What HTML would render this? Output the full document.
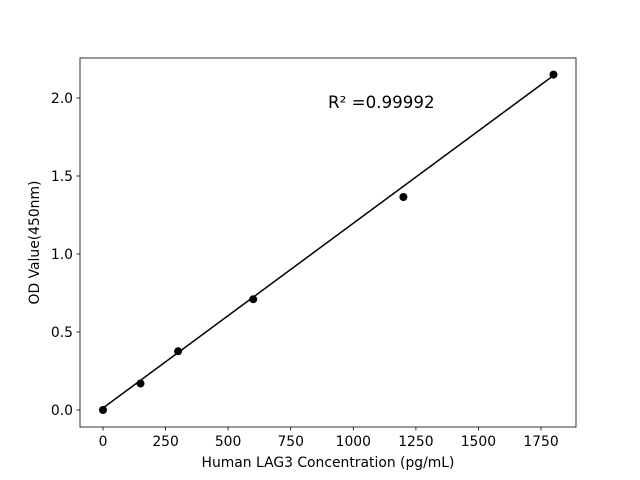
<!DOCTYPE html>
<html><head><meta charset="utf-8"><style>body{margin:0;background:#fff}svg{display:block}text{font-family:"DejaVu Sans","Liberation Sans",sans-serif;fill:#000}</style></head>
<body>
<svg width="640" height="480" xmlns="http://www.w3.org/2000/svg">
<rect x="80" y="58" width="496" height="369" fill="none" stroke="#000" stroke-width="0.8"/>
<g stroke="#000" stroke-width="0.8">
<line x1="103" y1="427" x2="103" y2="430.5"/>
<line x1="165.6" y1="427" x2="165.6" y2="430.5"/>
<line x1="228.1" y1="427" x2="228.1" y2="430.5"/>
<line x1="290.7" y1="427" x2="290.7" y2="430.5"/>
<line x1="353.3" y1="427" x2="353.3" y2="430.5"/>
<line x1="415.9" y1="427" x2="415.9" y2="430.5"/>
<line x1="478.4" y1="427" x2="478.4" y2="430.5"/>
<line x1="541" y1="427" x2="541" y2="430.5"/>
<line x1="76.5" y1="410" x2="80" y2="410"/>
<line x1="76.5" y1="332" x2="80" y2="332"/>
<line x1="76.5" y1="254" x2="80" y2="254"/>
<line x1="76.5" y1="176" x2="80" y2="176"/>
<line x1="76.5" y1="98" x2="80" y2="98"/>
</g>
<g font-size="13.9" text-anchor="middle">
<text x="103" y="446">0</text>
<text x="165.6" y="446">250</text>
<text x="228.1" y="446">500</text>
<text x="290.7" y="446">750</text>
<text x="353.3" y="446">1000</text>
<text x="415.9" y="446">1250</text>
<text x="478.4" y="446">1500</text>
<text x="541" y="446">1750</text>
</g>
<g font-size="13.9" text-anchor="end">
<text x="73" y="415">0.0</text>
<text x="73" y="337">0.5</text>
<text x="73" y="259">1.0</text>
<text x="73" y="181">1.5</text>
<text x="73" y="103">2.0</text>
</g>
<text x="328" y="467" font-size="13.9" text-anchor="middle">Human LAG3 Concentration (pg/mL)</text>
<text transform="translate(39,242.5) rotate(-90)" font-size="13.9" text-anchor="middle">OD Value(450nm)</text>
<text x="328" y="108" font-size="16.7">R² =0.99992</text>
<line x1="103" y1="408" x2="553.5" y2="75.5" stroke="#000" stroke-width="1.5"/>
<g fill="#000">
<circle cx="103" cy="410" r="4"/>
<circle cx="140.5" cy="383.5" r="4"/>
<circle cx="178.1" cy="351.3" r="4"/>
<circle cx="253.2" cy="299.2" r="4"/>
<circle cx="403.4" cy="197" r="4"/>
<circle cx="553.5" cy="74.6" r="4"/>
</g>
</svg>
</body></html>
